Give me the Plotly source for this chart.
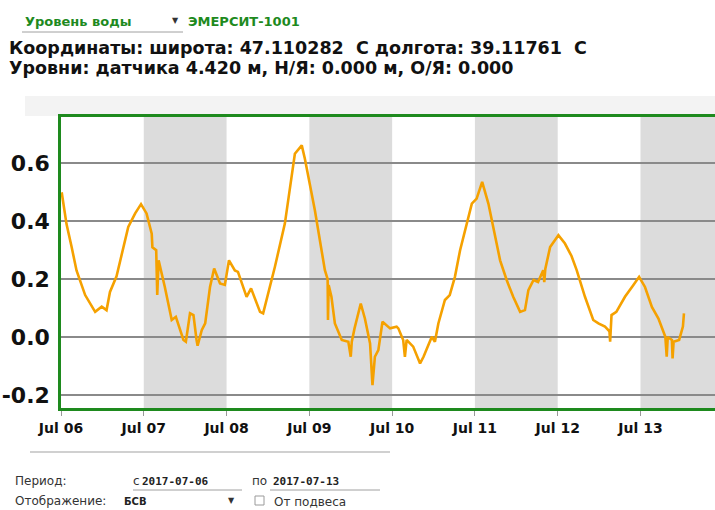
import pandas as pd
import plotly.graph_objects as go

# Water level series (hours since 2017-07-06 00:00, metres)
start = pd.Timestamp("2017-07-06 00:00")
hours = [
    0.2, 1.6, 3.1, 4.5, 7.0, 9.9, 11.8, 13.2, 14.2, 16.1, 19.5, 21.5, 23.2, 24.8,
    26.3, 26.5, 27.6, 27.9, 28.3, 30.1, 32.1, 33.3, 35.5, 36.2, 37.4, 38.4, 39.3,
    39.6, 40.8, 41.8, 43.2, 44.4, 46.1, 47.5, 48.7, 50.4, 51.3, 53.8, 55.1, 57.7,
    58.6, 62.0, 64.9, 66.9, 67.8, 69.8, 70.7, 73.6, 76.5, 77.3, 77.4, 77.6, 78.4,
    79.4, 81.4, 83.3, 84.0, 84.3, 85.1, 86.9, 88.1, 89.6, 90.3, 91.0, 92.0, 93.2,
    95.4, 97.3, 97.8, 99.2, 99.7, 100.2, 102.1, 104.1, 105.1, 107.5, 108.4, 109.4,
    111.3, 112.7, 114.2, 115.7, 117.6, 119.1, 120.5, 122.1, 123.9, 125.8, 127.3,
    129.2, 131.1, 133.1, 134.5, 135.5, 137.0, 138.3, 139.8, 140.1, 140.4, 141.8,
    144.2, 146.1, 148.0, 149.5, 151.9, 154.3, 155.8, 157.7, 159.0, 159.2, 159.6,
    161.0, 163.5, 165.9, 167.6, 169.3, 171.3, 173.2, 174.6, 175.2, 175.6, 175.9,
    177.1, 177.3, 177.6, 179.2, 180.3, 180.6,
]
level = [
    0.50, 0.39, 0.31, 0.23, 0.145, 0.087, 0.105, 0.093, 0.156, 0.21, 0.38, 0.427,
    0.459, 0.427, 0.357, 0.31, 0.30, 0.145, 0.265, 0.173, 0.059, 0.07, -0.01,
    -0.016, 0.082, 0.076, -0.01, -0.03, 0.024, 0.047, 0.173, 0.237, 0.185, 0.18,
    0.265, 0.23, 0.225, 0.139, 0.168, 0.087, 0.082, 0.242, 0.392, 0.553, 0.633,
    0.662, 0.616, 0.438, 0.231, 0.20, 0.059, 0.18, 0.139, 0.047, -0.01, -0.016,
    -0.068, -0.016, 0.03, 0.116, 0.064, -0.022, -0.166, -0.068, -0.045, 0.053,
    0.03, 0.036, 0.03, -0.01, -0.068, -0.01, -0.033, -0.091, -0.068, 0.001,
    -0.016, 0.047, 0.128, 0.145, 0.208, 0.30, 0.386, 0.461, 0.478, 0.536, 0.461,
    0.346, 0.265, 0.197, 0.139, 0.087, 0.093, 0.162, 0.197, 0.19, 0.231, 0.19,
    0.235, 0.311, 0.352, 0.323, 0.280, 0.231, 0.139, 0.059, 0.047, 0.036, 0.02,
    -0.016, 0.076, 0.087, 0.139, 0.179, 0.208, 0.173, 0.104, 0.064, 0.018, 0.001,
    -0.068, 0.0, -0.01, -0.074, -0.016, -0.01, 0.036, 0.082,
]
times = start + pd.to_timedelta(hours, unit="h")

day_ticks = ["2017-07-06", "2017-07-07", "2017-07-08", "2017-07-09",
             "2017-07-10", "2017-07-11", "2017-07-12", "2017-07-13"]
day_labels = ["Jul 06", "Jul 07", "Jul 08", "Jul 09",
              "Jul 10", "Jul 11", "Jul 12", "Jul 13"]
y_ticks = [-0.2, 0.0, 0.2, 0.4, 0.6]
y_labels = ["-0.2", "0.0", "0.2", "0.4", "0.6"]
shaded_days = [("2017-07-07", "2017-07-08"), ("2017-07-09", "2017-07-10"),
               ("2017-07-11", "2017-07-12"), ("2017-07-13", "2017-07-14")]

W, H = 715, 510
L, R, T, B = 61, 0, 117, 102
PW, PH = W - L - R, H - T - B


def px(x, y):
    """Pixel position -> paper coordinates."""
    return (x - L) / PW, (H - B - y) / PH


GREEN = "#1e8a1e"
BOLD = "DejaVu Sans"

fig = go.Figure()
fig.add_trace(go.Scatter(
    x=times, y=level, mode="lines",
    line=dict(color="#f5a100", width=2.6),
    hoverinfo="skip", showlegend=False,
))

shapes = []
for a, b in shaded_days:
    shapes.append(dict(type="rect", xref="x", yref="paper", x0=a, x1=b, y0=0, y1=1,
                       fillcolor="#dcdcdc", line=dict(width=0), layer="below"))
# soft header band above the plot
x0, y0 = px(25, 96)
x1, y1 = px(715, 116)
shapes.append(dict(type="rect", xref="paper", yref="paper", x0=x0, x1=x1, y0=y1, y1=y0,
                   fillcolor="#f3f3f3", line=dict(width=0), layer="below"))
# separator line below the chart
a0, b0 = px(30, 452)
a1, _ = px(390, 452)
shapes.append(dict(type="line", xref="paper", yref="paper", x0=a0, x1=a1, y0=b0, y1=b0,
                   line=dict(color="#d0d0d0", width=2)))
# dropdown underline
a0, b0 = px(22, 32)
a1, _ = px(183, 32)
shapes.append(dict(type="line", xref="paper", yref="paper", x0=a0, x1=a1, y0=b0, y1=b0,
                   line=dict(color="#a0a0a0", width=1)))
# date field underlines
for xa, xb in [(133, 242), (270, 380)]:
    a0, b0 = px(xa, 490)
    a1, _ = px(xb, 490)
    shapes.append(dict(type="line", xref="paper", yref="paper", x0=a0, x1=a1, y0=b0, y1=b0,
                       line=dict(color="#a0a0a0", width=1)))
# checkbox
a0, b0 = px(255, 496)
a1, b1 = px(264, 505)
shapes.append(dict(type="rect", xref="paper", yref="paper", x0=a0, x1=a1, y0=b1, y1=b0,
                   line=dict(color="#9a9a9a", width=1), fillcolor="white"))

annotations = []


def text(x, y, s, size, color="#111", bold=False, anchor="left", family=BOLD):
    xp, yp = px(x, y)
    annotations.append(dict(
        x=xp, y=yp, xref="paper", yref="paper", text=f"<b>{s}</b>" if bold else s,
        showarrow=False, xanchor=anchor, yanchor="middle",
        font=dict(family=family, size=size, color=color),
    ))


text(23, 21, "Уровень воды", 13, color=GREEN, bold=True)
text(170, 20, "▼", 8, color="#333")
text(186, 21, "ЭМЕРСИТ-1001", 13, color=GREEN, bold=True)
text(7, 48, "Координаты: широта: 47.110282  С долгота: 39.11761  С", 17.5, bold=True)
text(7, 68, "Уровни: датчика 4.420 м, Н/Я: 0.000 м, О/Я: 0.000", 17.5, bold=True)

text(13, 481, "Период:", 12, color="#333")
text(131, 481, "с", 12, color="#333")
text(140, 481, "2017-07-06", 11, color="#222", bold=True, family="DejaVu Sans Mono")
text(250, 481, "по", 12, color="#333")
text(271, 481, "2017-07-13", 11, color="#222", bold=True, family="DejaVu Sans Mono")
text(13, 501, "Отображение:", 12, color="#333")
text(122, 501, "БСВ", 10, color="#222", bold=True)
text(226, 500, "▼", 8, color="#333")
text(272, 502, "От подвеса", 12, color="#333")

end = start + pd.Timedelta(hours=189.6)

fig.update_layout(
    width=W, height=H,
    margin=dict(l=L, r=R, t=T, b=B, pad=0),
    paper_bgcolor="white", plot_bgcolor="white",
    shapes=shapes, annotations=annotations,
    xaxis=dict(
        range=[start, end], type="date",
        tickvals=day_ticks, ticktext=day_labels,
        tickfont=dict(family=BOLD, size=14, color="#111", weight="bold"),
        ticks="outside", ticklen=5, tickcolor="#999",
        showgrid=False, zeroline=False,
        showline=True, linecolor=GREEN, linewidth=2.5, mirror=True,
    ),
    yaxis=dict(
        range=[-0.245, 0.76],
        tickvals=y_ticks, ticktext=y_labels,
        tickfont=dict(family=BOLD, size=22, color="#111", weight="bold"),
        ticks="", showgrid=True, gridcolor="#8a8a8a", gridwidth=1.5,
        zeroline=False, showline=True, linecolor=GREEN, linewidth=2.5,
        mirror=False, ticklabelstandoff=4,
    ),
)

fig.write_html("out.html")
